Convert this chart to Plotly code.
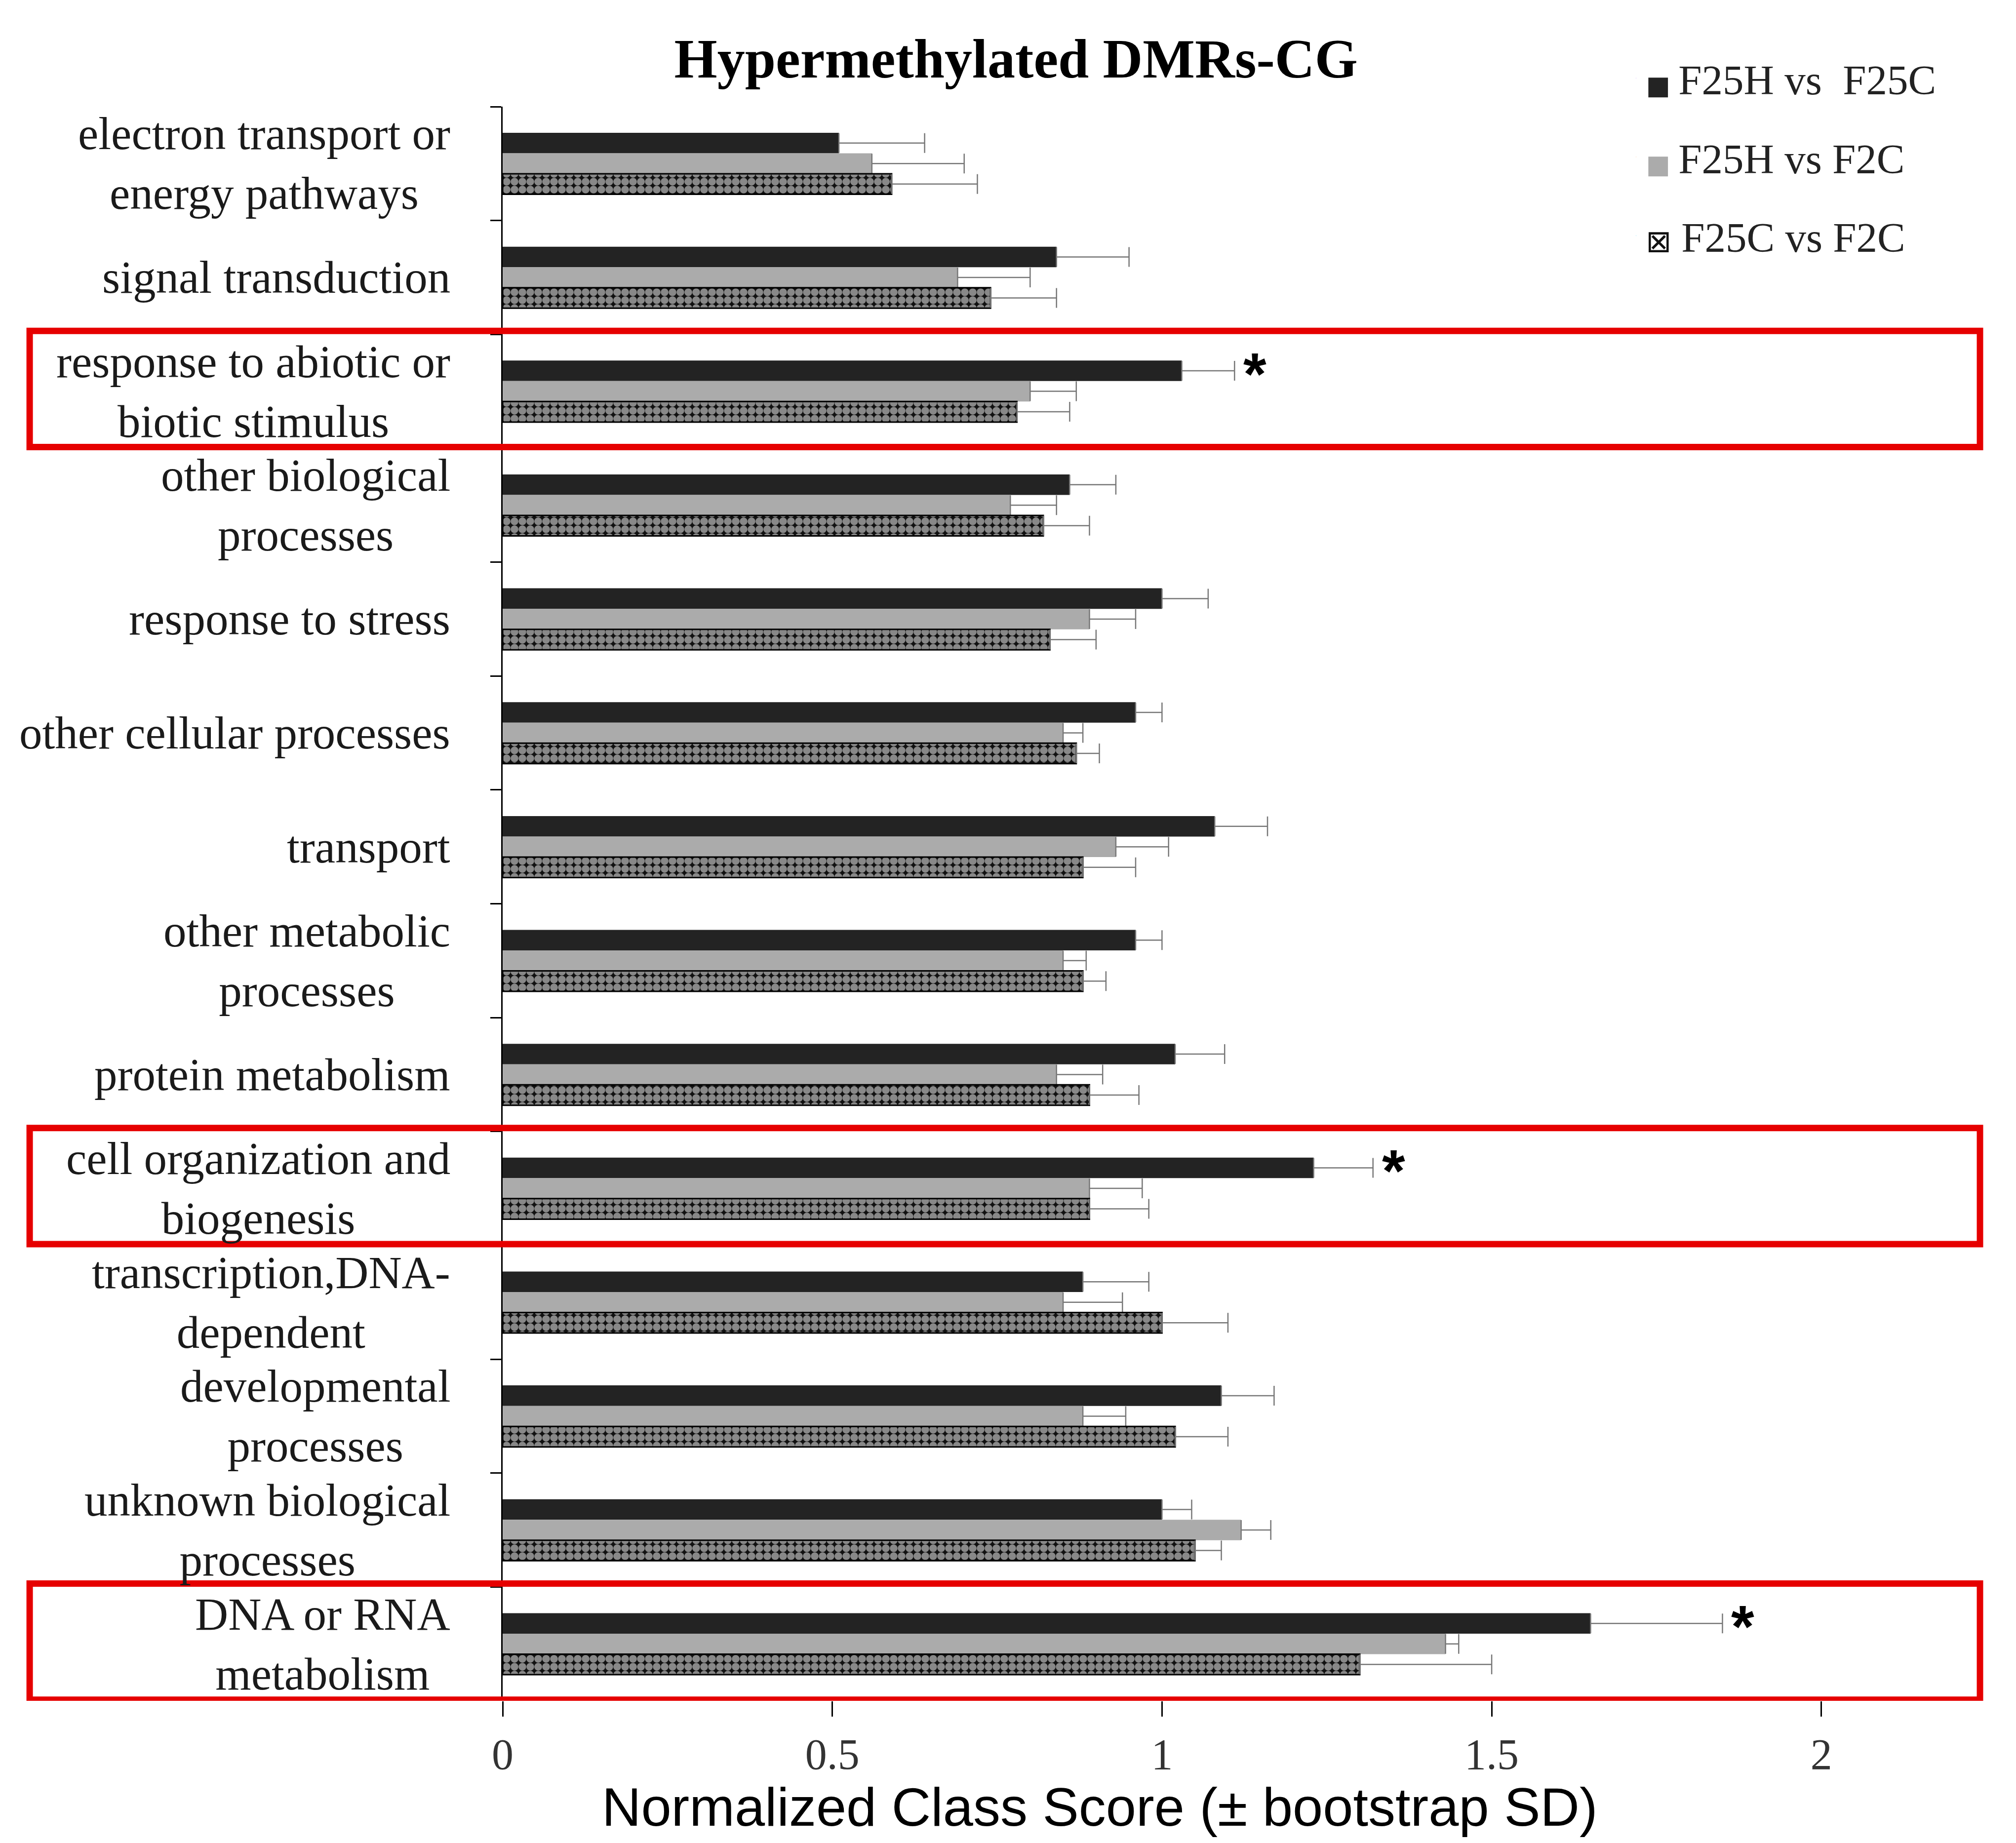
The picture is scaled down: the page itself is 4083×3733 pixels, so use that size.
import plotly.graph_objects as go

# categories, top to bottom
categories = [
    "electron transport or<br>energy pathways",
    "signal transduction",
    "response to abiotic or<br>biotic stimulus",
    "other biological<br>processes",
    "response to stress",
    "other cellular processes",
    "transport",
    "other metabolic<br>processes",
    "protein metabolism",
    "cell organization and<br>biogenesis",
    "transcription,DNA-<br>dependent",
    "developmental<br>processes",
    "unknown biological<br>processes",
    "DNA or RNA<br>metabolism",
]

series_names = ["F25H vs  F25C", "F25H vs F2C", "F25C vs F2C"]

# normalized class scores
f25h_f25c = [0.51, 0.84, 1.03, 0.86, 1.00, 0.96, 1.08, 0.96, 1.02, 1.23, 0.88, 1.09, 1.00, 1.65]
f25h_f2c = [0.56, 0.69, 0.80, 0.77, 0.89, 0.85, 0.93, 0.85, 0.84, 0.89, 0.85, 0.88, 1.12, 1.43]
f25c_f2c = [0.59, 0.74, 0.78, 0.82, 0.83, 0.87, 0.88, 0.88, 0.89, 0.89, 1.00, 1.02, 1.05, 1.30]

# bootstrap SD (upper side only)
sd_f25h_f25c = [0.13, 0.11, 0.08, 0.07, 0.07, 0.04, 0.08, 0.04, 0.075, 0.09, 0.10, 0.08, 0.045, 0.20]
sd_f25h_f2c = [0.14, 0.11, 0.07, 0.07, 0.07, 0.03, 0.08, 0.035, 0.07, 0.08, 0.09, 0.065, 0.045, 0.02]
sd_f25c_f2c = [0.13, 0.10, 0.08, 0.07, 0.07, 0.035, 0.08, 0.035, 0.075, 0.09, 0.10, 0.08, 0.04, 0.20]

# categories marked significant (*) and boxed in red
highlighted = [
    "response to abiotic or<br>biotic stimulus",
    "cell organization and<br>biogenesis",
    "DNA or RNA<br>metabolism",
]

x_tickvals = [0, 0.5, 1, 1.5, 2]
x_ticktext = ["0", "0.5", "1", "1.5", "2"]

serif = "Liberation Serif"
err_color = "#777777"

fig = go.Figure()

values = [f25h_f25c, f25h_f2c, f25c_f2c]
errors = [sd_f25h_f25c, sd_f25h_f2c, sd_f25c_f2c]
colors = ["#232323", "#ababab", "#111111"]

for i in range(3):
    marker = dict(color=colors[i], line=dict(width=0))
    if i == 2:
        # checkered fill
        marker = dict(
            color="#111111",
            line=dict(color="black", width=3),
            pattern=dict(shape=".", fgcolor="white", size=16, solidity=0.75),
        )
    fig.add_trace(go.Bar(
        y=categories,
        x=values[i],
        orientation="h",
        name=series_names[i],
        marker=marker,
        showlegend=False,
        error_x=dict(
            type="data",
            symmetric=False,
            array=errors[i],
            arrayminus=[0] * len(errors[i]),
            color=err_color,
            thickness=2.5,
            width=20,
        ),
    ))

# legend: glyph squares drawn in the entry text, like the original
legend_glyphs = [("■", "#232323", 52), ("■", "#ababab", 52), ("⊠", "#111111", 62)]
for i in range(3):
    glyph, gcol, gsize = legend_glyphs[i]
    fig.add_trace(go.Scatter(
        x=[None], y=[None], mode="markers",
        name=("<span style='font-family:DejaVu Sans;font-size:%dpx;color:%s'>%s </span>%s"
              % (gsize, gcol, glyph, series_names[i])),
        marker=dict(size=1, opacity=0),
        legendgroup=str(i),
        showlegend=True,
    ))

# category labels, centred multi-line like the original
for cat in categories:
    fig.add_annotation(
        x=0, xref="paper", y=cat, yref="y",
        text=cat, showarrow=False,
        xanchor="right", yanchor="middle", align="center",
        xshift=-104,
        font=dict(family=serif, size=93, color="#1a1a1a"),
    )

# red boxes and significance stars
for cat in highlighted:
    idx = categories.index(cat)
    fig.add_shape(
        type="rect", xref="paper", yref="y",
        x0=-0.3174, x1=0.9914, y0=idx - 0.53, y1=idx + 0.49,
        line=dict(color="#e60000", width=13),
        fillcolor="rgba(0,0,0,0)", layer="above",
    )
    fig.add_annotation(
        x=f25h_f25c[idx] + sd_f25h_f25c[idx], y=cat,
        text="<b>*</b>", showarrow=False,
        xanchor="left", yanchor="middle",
        xshift=16, yshift=36,
        font=dict(family="Liberation Sans", size=120, color="black"),
    )

# x-axis title
fig.add_annotation(
    x=0.4006, xref="paper", y=-0.0663, yref="paper",
    text="Normalized Class Score (± bootstrap SD)",
    showarrow=False, xanchor="center", yanchor="middle",
    font=dict(family="Liberation Sans", size=110, color="black"),
)

fig.update_layout(
    width=4083,
    height=3733,
    barmode="group",
    bargap=0.46,
    bargroupgap=0,
    plot_bgcolor="white",
    paper_bgcolor="white",
    margin=dict(l=1010, r=55, t=208, b=296),
    title=dict(
        text="<b>Hypermethylated DMRs-CG</b>",
        x=0.502, xref="container", xanchor="center",
        y=0.9705, yref="container", yanchor="middle",
        font=dict(family=serif, size=112, color="black"),
    ),
    legend=dict(
        x=0.754, y=1.037, xanchor="left", yanchor="top",
        traceorder="grouped", tracegroupgap=46,
        font=dict(family=serif, size=85, color="#222222"),
        bgcolor="rgba(0,0,0,0)",
        itemwidth=30,
    ),
    xaxis=dict(
        range=[0, 2.26],
        tickvals=x_tickvals,
        ticktext=x_ticktext,
        ticks="outside", ticklen=31, tickwidth=3, tickcolor="black",
        ticklabelstandoff=0,
        showline=False, showgrid=False, zeroline=False,
        tickfont=dict(family=serif, size=88, color="#333333"),
    ),
    yaxis=dict(
        type="category",
        categoryorder="array",
        categoryarray=categories,
        range=[13.5, -0.5],
        tickson="boundaries",
        ticks="outside", ticklen=22, tickwidth=3, tickcolor="black",
        showticklabels=False,
        showline=True, linewidth=3, linecolor="black",
        showgrid=False, zeroline=False,
    ),
)

fig.write_html("out.html")
